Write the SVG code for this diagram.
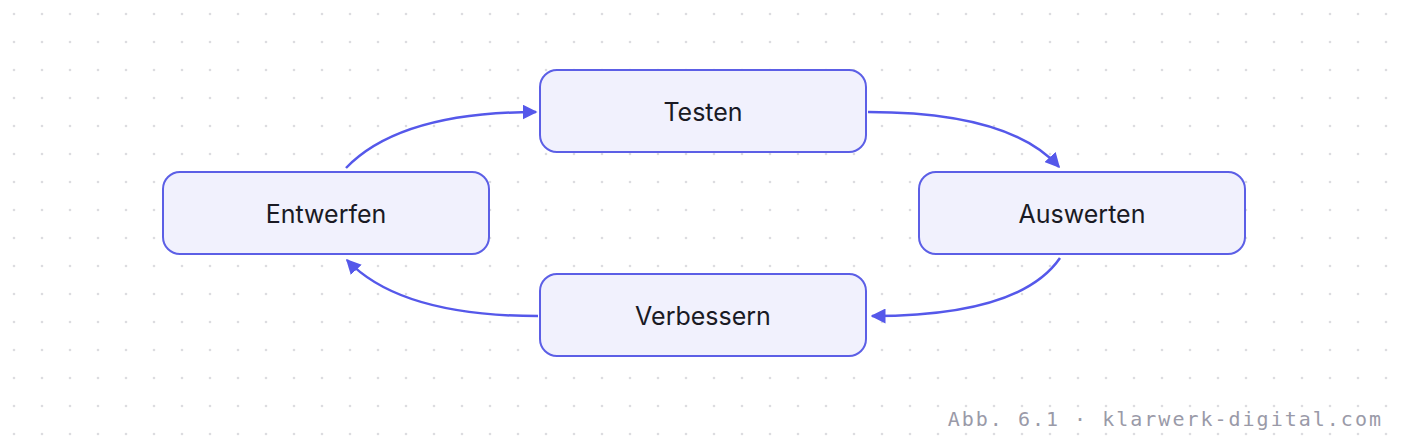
<svg xmlns="http://www.w3.org/2000/svg" width="1408" height="448" viewBox="0 0 1408 448">
<defs>
<pattern id="dots" x="0" y="0" width="28" height="28" patternUnits="userSpaceOnUse"><circle cx="14" cy="14" r="1.3" fill="#dcdce0"/></pattern>
<marker id="ah" viewBox="0 0 10 10" refX="9" refY="5" markerWidth="6" markerHeight="6" orient="auto-start-reverse" markerUnits="strokeWidth"><path d="M0,0 L10,5 L0,10 z" fill="#5558ea"/></marker>
</defs>
<style>
.n rect{fill:#f1f1fd;stroke:#5c5fe6;stroke-width:2}
.n text{font-family:Inter,"Noto Sans",sans-serif;font-size:25px;fill:#1a1a24;text-anchor:middle;dominant-baseline:central}
.c path{fill:none;stroke:#5558ea;stroke-width:2.5;marker-end:url(#ah)}
</style>
<rect width="1408" height="448" fill="#fff"/>
<rect width="1408" height="448" fill="url(#dots)"/>
<g class="c">
<path d="M346,168 Q400,112 536,112"/>
<path d="M868,112 Q1010,112 1059,167"/>
<path d="M1060,258 Q1020,316 872,316"/>
<path d="M538,316 Q400,316 347,260"/>
</g>
<g id="testen" class="n"><rect x="540" y="70" width="326" height="82" rx="17"/><text x="703" y="112">Testen</text></g>
<g id="entwerfen" class="n"><rect x="163" y="172" width="326" height="82" rx="17"/><text x="326" y="214">Entwerfen</text></g>
<g id="auswerten" class="n"><rect x="919" y="172" width="326" height="82" rx="17"/><text x="1082" y="214">Auswerten</text></g>
<g id="verbessern" class="n"><rect x="540" y="274" width="326" height="82" rx="17"/><text x="703" y="316">Verbessern</text></g>
<text x="1383" y="426" text-anchor="end" font-family="'DejaVu Sans Mono',monospace" font-size="20" letter-spacing="2" fill="#9a9aa8">Abb. 6.1 · klarwerk-digital.com</text>
</svg>
